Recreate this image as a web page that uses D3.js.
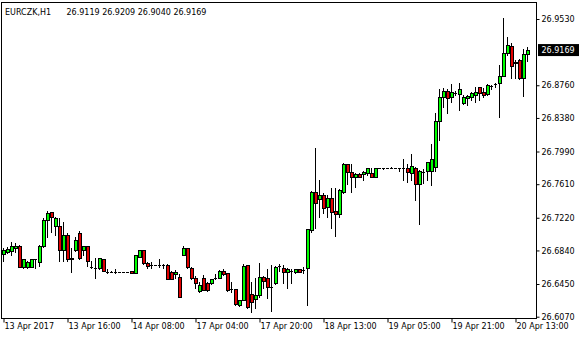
<!DOCTYPE html>
<html>
<head>
<meta charset="utf-8">
<script src="https://cdn.jsdelivr.net/npm/d3@7"></script>
<style>
    html, body { margin: 0; padding: 0; background: #fff; }
    svg text { font-family: 'DejaVu Sans', Verdana, sans-serif; fill: #000; }
</style>
</head>
<body>
<div id="chart"></div>
<script>
const symbolTitle = 'EURCZK,H1';
const lastBar = ['26.9119', '26.9209', '26.9040', '26.9169'];

// hourly bars, oldest first
const open = [
    26.6795, 26.6819, 26.6837, 26.6865, 26.6892, 26.6651, 26.6651, 26.6651, 26.6738, 26.6709,
    26.6892, 26.7194, 26.7283, 26.7128, 26.7124, 26.6845, 26.7020, 26.6749, 26.6845, 26.7039,
    26.6845, 26.6892, 26.6651, 26.6633, 26.6633, 26.6741, 26.6593, 26.6593, 26.6593, 26.6593,
    26.6593, 26.6593, 26.6601, 26.6582, 26.6767, 26.6845, 26.6691, 26.6671, 26.6671, 26.6671,
    26.6671, 26.6671, 26.6593, 26.6566, 26.6535, 26.6787, 26.6865, 26.6640, 26.6516, 26.6372,
    26.6516, 26.6465, 26.6458, 26.6516, 26.6523, 26.6601, 26.6574, 26.6388, 26.6388, 26.6206,
    26.6264, 26.6671, 26.6331, 26.6279, 26.6322, 26.6532, 26.6516, 26.6419, 26.6458, 26.6659,
    26.6633, 26.6586, 26.6605, 26.6593, 26.6621, 26.6613, 26.6633, 26.7078, 26.7516, 26.7438,
    26.7485, 26.7349, 26.7446, 26.7299, 26.7260, 26.7523, 26.7845, 26.7755, 26.7697, 26.7729,
    26.7725, 26.7737, 26.7737, 26.7697, 26.7795, 26.7795, 26.7795, 26.7795, 26.7795, 26.7795,
    26.7795, 26.7795, 26.7737, 26.7795, 26.7609, 26.7755, 26.7763, 26.7767, 26.7806, 26.8348,
    26.8620, 26.8693, 26.8627, 26.8674, 26.8658, 26.8550, 26.8616, 26.8620, 26.8647, 26.8736,
    26.8685, 26.8655, 26.8755, 26.8771, 26.8783, 26.8868, 26.9138, 26.9216, 26.9030, 26.9054,
    26.8841, 26.9119,
];
const high = [
    26.6869, 26.6880, 26.6935, 26.6930, 26.6903, 26.6737, 26.6721, 26.6737, 26.6741, 26.6898,
    26.7214, 26.7299, 26.7290, 26.7232, 26.7214, 26.7167, 26.7039, 26.6865, 26.7000, 26.7066,
    26.6892, 26.6892, 26.6717, 26.6756, 26.6756, 26.6741, 26.6621, 26.6601, 26.6621, 26.6593,
    26.6593, 26.6593, 26.6601, 26.6787, 26.6851, 26.6845, 26.6709, 26.6702, 26.6671, 26.6741,
    26.6686, 26.6677, 26.6597, 26.6613, 26.6563, 26.6892, 26.6869, 26.6644, 26.6547, 26.6477,
    26.6554, 26.6470, 26.6508, 26.6563, 26.6609, 26.6621, 26.6578, 26.6477, 26.6392, 26.6268,
    26.6679, 26.6674, 26.6473, 26.6520, 26.6691, 26.6547, 26.6624, 26.6671, 26.6659, 26.6682,
    26.6671, 26.6633, 26.6621, 26.6628, 26.6624, 26.6644, 26.7095, 26.7531, 26.8027, 26.7659,
    26.7511, 26.7485, 26.7563, 26.7563, 26.7551, 26.7860, 26.7845, 26.7845, 26.7737, 26.7744,
    26.7767, 26.7802, 26.7795, 26.7795, 26.7795, 26.7795, 26.7795, 26.7806, 26.7795, 26.7795,
    26.7899, 26.7845, 26.7961, 26.7806, 26.7775, 26.7783, 26.7872, 26.8077, 26.8434, 26.8713,
    26.8725, 26.8713, 26.8775, 26.8697, 26.8790, 26.8647, 26.8647, 26.8685, 26.8736, 26.8736,
    26.8725, 26.8775, 26.8763, 26.8783, 26.8996, 26.9538, 26.9317, 26.9248, 26.9048, 26.9062,
    26.9178, 26.9209,
];
const low = [
    26.6717, 26.6810, 26.6787, 26.6826, 26.6648, 26.6633, 26.6633, 26.6648, 26.6640, 26.6659,
    26.6884, 26.7000, 26.7058, 26.7020, 26.6717, 26.6717, 26.6717, 26.6593, 26.6837, 26.6744,
    26.6787, 26.6659, 26.6633, 26.6523, 26.6628, 26.6597, 26.6574, 26.6586, 26.6574, 26.6593,
    26.6593, 26.6593, 26.6574, 26.6574, 26.6764, 26.6679, 26.6633, 26.6640, 26.6671, 26.6651,
    26.6633, 26.6505, 26.6505, 26.6516, 26.6299, 26.6783, 26.6636, 26.6512, 26.6404, 26.6361,
    26.6377, 26.6372, 26.6454, 26.6508, 26.6520, 26.6554, 26.6369, 26.6353, 26.6206, 26.6194,
    26.6261, 26.6175, 26.6128, 26.6167, 26.6299, 26.6400, 26.6287, 26.6142, 26.6450, 26.6605,
    26.6466, 26.6400, 26.6466, 26.6574, 26.6590, 26.6582, 26.6206, 26.7058, 26.7097, 26.7225,
    26.7279, 26.7225, 26.7097, 26.7008, 26.7225, 26.7504, 26.7612, 26.7523, 26.7573, 26.7690,
    26.7659, 26.7717, 26.7690, 26.7694, 26.7795, 26.7781, 26.7795, 26.7795, 26.7795, 26.7767,
    26.7659, 26.7639, 26.7659, 26.7426, 26.7144, 26.7628, 26.7659, 26.7601, 26.7767, 26.8124,
    26.8511, 26.8441, 26.8569, 26.8647, 26.8472, 26.8546, 26.8531, 26.8589, 26.8569, 26.8589,
    26.8627, 26.8647, 26.8713, 26.8736, 26.8395, 26.8864, 26.9112, 26.8841, 26.8841, 26.8833,
    26.8635, 26.9040,
];
const close = [
    26.6845, 26.6857, 26.6892, 26.6892, 26.6651, 26.6737, 26.6709, 26.6737, 26.6738, 26.6892,
    26.7194, 26.7279, 26.7232, 26.7221, 26.6845, 26.7020, 26.6737, 26.6744, 26.6962, 26.6749,
    26.6892, 26.6717, 26.6651, 26.6633, 26.6756, 26.6601, 26.6593, 26.6593, 26.6593, 26.6593,
    26.6593, 26.6593, 26.6574, 26.6787, 26.6845, 26.6691, 26.6663, 26.6671, 26.6671, 26.6671,
    26.6671, 26.6508, 26.6508, 26.6593, 26.6302, 26.6865, 26.6647, 26.6516, 26.6458, 26.6438,
    26.6380, 26.6377, 26.6505, 26.6516, 26.6605, 26.6563, 26.6380, 26.6388, 26.6214, 26.6264,
    26.6659, 26.6186, 26.6244, 26.6322, 26.6532, 26.6488, 26.6419, 26.6419, 26.6651, 26.6659,
    26.6586, 26.6621, 26.6605, 26.6621, 26.6593, 26.6613, 26.7086, 26.7523, 26.7395, 26.7485,
    26.7337, 26.7446, 26.7283, 26.7260, 26.7543, 26.7845, 26.7755, 26.7697, 26.7725, 26.7697,
    26.7748, 26.7795, 26.7697, 26.7795, 26.7795, 26.7795, 26.7795, 26.7795, 26.7795, 26.7795,
    26.7795, 26.7755, 26.7822, 26.7609, 26.7763, 26.7755, 26.7865, 26.7899, 26.8345, 26.8620,
    26.8693, 26.8608, 26.8678, 26.8674, 26.8713, 26.8627, 26.8635, 26.8667, 26.8685, 26.8667,
    26.8647, 26.8763, 26.8755, 26.8771, 26.8868, 26.9138, 26.9228, 26.8987, 26.9025, 26.8841,
    26.9123, 26.9169,
];

const priceTicks = ['26.9530', '26.8760', '26.8380', '26.7990', '26.7610', '26.7220', '26.6840', '26.6450', '26.6070'];
const timeLabels = [
    '13 Apr 2017', '13 Apr 16:00', '14 Apr 08:00', '17 Apr 04:00', '17 Apr 20:00',
    '18 Apr 13:00', '19 Apr 05:00', '19 Apr 21:00', '20 Apr 13:00',
];
const barsPerTimeLabel = 16;

const width = 580;
const height = 340;
const frame = { left: 1.5, top: 2.5, right: 536.5, bottom: 318.5 };
const bullColor = '#00ff00';
const bearColor = '#e00000';

const bars = open.map((o, i) => ({ i, o, h: high[i], l: low[i], c: close[i] }));

const svg = d3.select('#chart')
    .append('svg')
    .attr('width', width)
    .attr('height', height);

// bar centres on half pixels so 1px wicks stay sharp
const x = d3.scaleLinear()
    .domain([0, bars.length - 1])
    .range([3.5, 527.5]);

const y = d3.scaleLinear()
    .domain([26.607, 26.953])
    .range([316.7, 19]);

const py = v => Math.round(y(v)) + 0.5;

// wicks
svg.append('g')
    .selectAll('line')
    .data(bars)
    .enter()
    .append('line')
    .attr('x1', d => x(d.i))
    .attr('x2', d => x(d.i))
    .attr('y1', d => Math.round(y(d.h)))
    .attr('y2', d => Math.round(y(d.l)) + 1)
    .attr('stroke', '#000')
    .attr('stroke-width', 1);

// bodies: black outline round two columns of colour
svg.append('g')
    .selectAll('rect')
    .data(bars.filter(d => d.o !== d.c))
    .enter()
    .append('rect')
    .attr('x', d => x(d.i) - 1)
    .attr('y', d => py(Math.max(d.o, d.c)))
    .attr('width', 3)
    .attr('height', d => Math.max(1, py(Math.min(d.o, d.c)) - py(Math.max(d.o, d.c))))
    .attr('fill', d => (d.c > d.o ? bullColor : bearColor))
    .attr('stroke', '#000')
    .attr('stroke-width', 1);

// doji bars
svg.append('g')
    .selectAll('line')
    .data(bars.filter(d => d.o === d.c))
    .enter()
    .append('line')
    .attr('x1', d => x(d.i) - 1.5)
    .attr('x2', d => x(d.i) + 1.5)
    .attr('y1', d => py(d.c))
    .attr('y2', d => py(d.c))
    .attr('stroke', '#000')
    .attr('stroke-width', 1);

// frame
svg.append('rect')
    .attr('x', frame.left)
    .attr('y', frame.top)
    .attr('width', frame.right - frame.left)
    .attr('height', frame.bottom - frame.top)
    .attr('fill', 'none')
    .attr('stroke', '#000')
    .attr('stroke-width', 1);

// price axis
const yAxis = d3.axisRight(y)
    .tickValues(priceTicks.map(Number))
    .tickFormat(d3.format('.4f'))
    .tickSize(3)
    .tickPadding(2);

svg.append('g')
    .attr('transform', `translate(${frame.right},0)`)
    .call(yAxis)
    .call(g => g.select('.domain').remove())
    .call(g => g.selectAll('text').attr('font-size', 8).attr('font-family', null));

// current price marker
const lastClose = close[close.length - 1];
svg.append('rect')
    .attr('x', frame.right + 1.5)
    .attr('y', y(lastClose) - 6)
    .attr('width', 41)
    .attr('height', 12)
    .attr('fill', '#000');

svg.append('text')
    .attr('x', frame.right + 5)
    .attr('y', y(lastClose))
    .attr('dy', '0.36em')
    .attr('font-size', 8)
    .style('fill', '#fff')
    .text(lastBar[3]);

// time axis
const timeTicks = timeLabels.map((t, k) => k * barsPerTimeLabel);
const xAxis = d3.axisBottom(x)
    .tickValues(timeTicks)
    .tickFormat((d, k) => timeLabels[k])
    .tickSize(4)
    .tickPadding(1);

svg.append('g')
    .attr('transform', `translate(0,${frame.bottom})`)
    .call(xAxis)
    .call(g => g.select('.domain').remove())
    .call(g => g.selectAll('text')
        .attr('text-anchor', 'start')
        .attr('dx', '0.5')
        .attr('font-size', 8)
        .attr('font-family', null));

// title
svg.append('text')
    .attr('x', 5)
    .attr('y', 15)
    .attr('font-size', 8)
    .text(symbolTitle);

svg.append('text')
    .attr('x', 66.5)
    .attr('y', 15)
    .attr('font-size', 8)
    .text(lastBar.join(' '));
</script>
</body>
</html>
